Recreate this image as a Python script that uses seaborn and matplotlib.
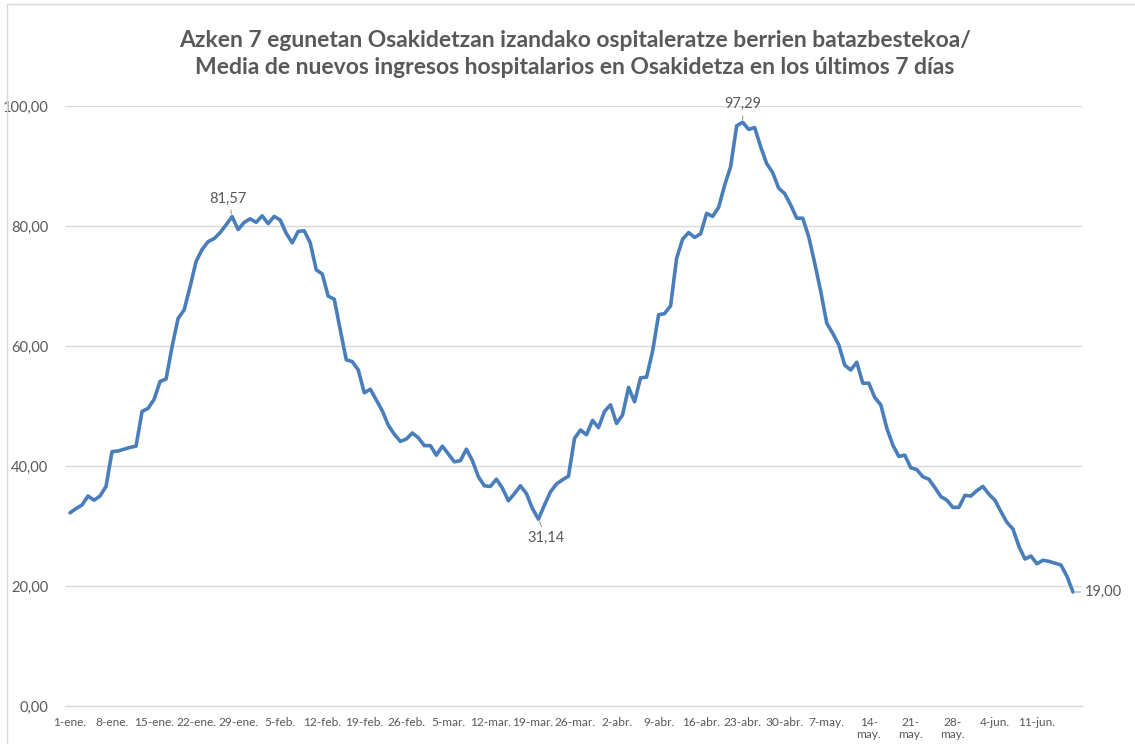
import matplotlib
matplotlib.use("Agg")
import matplotlib.pyplot as plt
from matplotlib.patches import Rectangle
from matplotlib.ticker import FuncFormatter, FixedLocator
import seaborn as sns
import pandas as pd
import numpy as np

# ---- data ----
values = [
    32.2, 32.9, 33.5, 35.0, 34.3, 35.0, 36.6, 42.4, 42.5, 42.8,
    43.1, 43.3, 49.1, 49.6, 51.1, 54.1, 54.5, 59.9, 64.6, 66.0,
    69.9, 74.1, 76.1, 77.4, 77.9, 78.9, 80.2, 81.57, 79.4, 80.6,
    81.2, 80.6, 81.7, 80.4, 81.6, 81.0, 78.8, 77.2, 79.1, 79.2,
    77.2, 72.7, 72.0, 68.3, 67.8, 62.7, 57.7, 57.4, 56.0, 52.2,
    52.8, 51.0, 49.2, 46.8, 45.3, 44.1, 44.5, 45.5, 44.7, 43.4,
    43.4, 41.8, 43.3, 42.0, 40.7, 40.9, 42.8, 40.9, 38.2, 36.7,
    36.6, 37.8, 36.3, 34.2, 35.4, 36.7, 35.4, 32.9, 31.14, 33.5,
    35.7, 37.0, 37.7, 38.3, 44.6, 46.0, 45.2, 47.6, 46.4, 49.1,
    50.2, 47.1, 48.5, 53.1, 50.7, 54.7, 54.8, 59.1, 65.2, 65.4,
    66.7, 74.6, 77.8, 78.9, 78.1, 78.7, 82.1, 81.6, 83.1, 86.8,
    89.9, 96.7, 97.29, 96.1, 96.4, 93.2, 90.4, 88.9, 86.3, 85.4,
    83.5, 81.3, 81.3, 78.2, 73.8, 69.1, 63.8, 62.1, 60.2, 56.8,
    56.0, 57.3, 53.8, 53.8, 51.4, 50.2, 46.3, 43.5, 41.6, 41.8,
    39.7, 39.4, 38.2, 37.8, 36.4, 34.9, 34.3, 33.1, 33.1, 35.1,
    35.0, 35.9, 36.6, 35.3, 34.3, 32.4, 30.6, 29.5, 26.6, 24.5,
    25.0, 23.7, 24.3, 24.1, 23.8, 23.5, 21.6, 19.00,
]
days = list(range(len(values)))  # 1-ene ... 17-jun
labelled_values = [81.57, 31.14, 97.29, 19.00]

tick_days = list(range(0, 162, 7))
tick_labels = [
    "1-ene.", "8-ene.", "15-ene.", "22-ene.", "29-ene.", "5-feb.",
    "12-feb.", "19-feb.", "26-feb.", "5-mar.", "12-mar.", "19-mar.",
    "26-mar.", "2-abr.", "9-abr.", "16-abr.", "23-abr.", "30-abr.",
    "7-may.", "14-\nmay.", "21-\nmay.", "28-\nmay.", "4-jun.", "11-jun.",
]
y_ticks = [0, 20, 40, 60, 80, 100]

title = ("Azken 7 egunetan Osakidetzan izandako ospitaleratze berrien batazbestekoa/\n"
         "Media de nuevos ingresos hospitalarios en Osakidetza en los últimos 7 días")

# ---- style ----
sns.set_theme(style="white")
plt.rcParams["font.family"] = ["Lato", "DejaVu Sans"]

TXT = "#595959"
GRID = "#d9d9d9"
LINE = "#4a7ebb"

df = pd.DataFrame({"day": days, "value": values})

W, H = 1135, 744
fig = plt.figure(figsize=(W / 100, H / 100), dpi=100)
fig.patch.set_facecolor("white")
ax = fig.add_axes([65 / W, 1 - 706 / H, 1017 / W, 600 / H])

sns.lineplot(data=df, x="day", y="value", ax=ax, color=LINE, linewidth=2.6,
             solid_joinstyle="round", solid_capstyle="round")

ax.set_xlim(-0.83, 168.5)
ax.set_ylim(0, 100)
ax.set_xlabel("")
ax.set_ylabel("")

ax.yaxis.set_major_locator(FixedLocator(y_ticks))
ax.yaxis.set_major_formatter(FuncFormatter(lambda v, p: f"{v:.2f}".replace(".", ",")))
ax.grid(axis="y", color=GRID, linewidth=1.0)
ax.grid(axis="x", visible=False)
ax.set_axisbelow(True)

ax.set_xticks(tick_days)
ax.set_xticklabels(tick_labels, va="top", linespacing=1.15)
ax.tick_params(axis="x", length=0, pad=8, labelsize=8.6, labelcolor=TXT)
ax.tick_params(axis="y", length=0, pad=12, labelsize=10.5, labelcolor=TXT)

for s in ["top", "right", "left"]:
    ax.spines[s].set_visible(False)
ax.spines["bottom"].set_color(GRID)
ax.spines["bottom"].set_linewidth(1.0)

# title
fig.text(575 / W, 1 - 54 / H, title, ha="center", va="center", fontsize=16.5,
         fontweight="bold", color=TXT, linespacing=1.3)

# data labels
arrow = dict(arrowstyle="-", color="#a6a6a6", lw=0.9, shrinkA=1, shrinkB=2)
offsets = [(-4, 18, "center"), (8, -19, "center"), (0, 18, "center"), (12, 0, "left")]

for v, (dx, dy, ha) in zip(labelled_values, offsets):
    i = values.index(v)
    ax.annotate(f"{v:.2f}".replace(".", ","), xy=(days[i], v),
                xytext=(dx, dy), textcoords="offset pixels", ha=ha, va="center",
                fontsize=10.5, color=TXT, arrowprops=arrow)

# chart border
fig.patches.append(Rectangle((7 / W, -0.05), 1.2, 1 - 4 / H + 0.05,
                             transform=fig.transFigure, fill=False,
                             edgecolor="#d9d9d9", linewidth=1.0))

fig.savefig("out.png", dpi=100, facecolor="white")
